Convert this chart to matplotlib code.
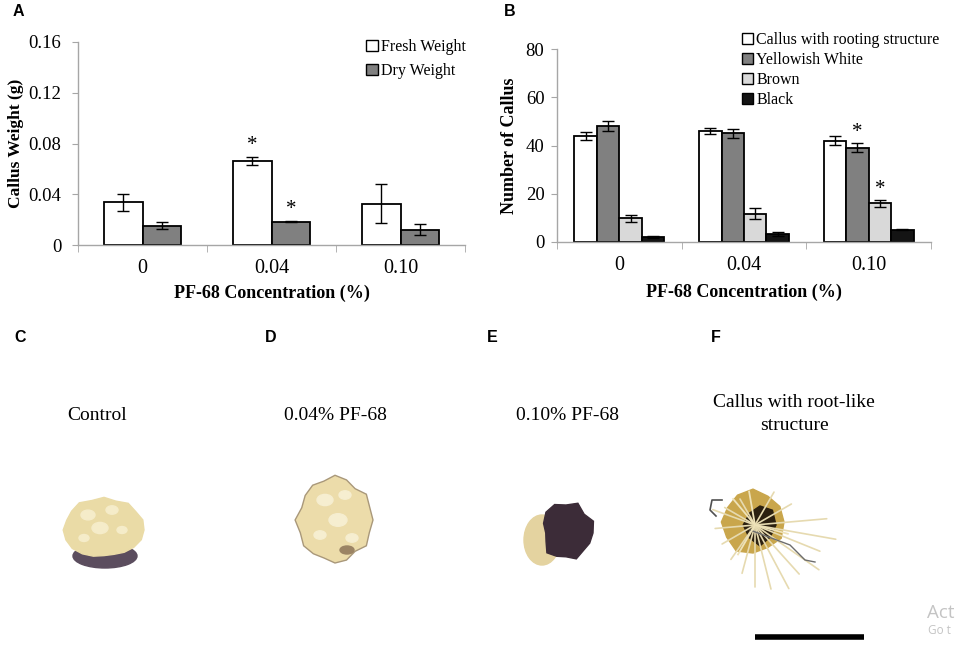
"""Callus weight / callus count under PF-68, plus photo panels C-F."""

import numpy as np
import matplotlib

matplotlib.use("Agg")
import matplotlib.pyplot as plt
from matplotlib.patches import Ellipse, Polygon, Patch

# ---- data -------------------------------------------------------------
concentrations = ["0", "0.04", "0.10"]

fresh_weight = [0.0335, 0.066, 0.0325]
fresh_err = [0.0067, 0.0033, 0.0155]
dry_weight = [0.0153, 0.0185, 0.0122]
dry_err = [0.0025, 0.0003, 0.0042]

callus_rooting = [44.0, 46.0, 42.0]
callus_rooting_err = [1.7, 1.4, 1.9]
yellowish_white = [48.0, 45.0, 39.0]
yellowish_white_err = [2.0, 1.9, 1.9]
brown = [9.8, 11.8, 16.0]
brown_err = [1.5, 2.3, 1.4]
black = [1.9, 3.2, 5.1]
black_err = [0.4, 0.9, 0.3]

photo_captions = ["Control", "0.04% PF-68", "0.10% PF-68", "Callus with root-like\nstructure"]

SERIF = ["Liberation Serif", "DejaVu Serif"]
SANS = ["Liberation Sans", "DejaVu Sans"]
AXIS_GREY = "#a6a6a6"


def _style_ax(ax, ymax, step, fmt, ypad):
    ax.set_xlim(-0.5, 2.5)
    ax.set_ylim(0, ymax)
    ax.set_yticks(np.arange(0, ymax + step / 2, step))
    ax.set_yticklabels([fmt(v) for v in np.arange(0, ymax + step / 2, step)], fontfamily=SERIF, fontsize=13.5)
    ax.set_xticks(range(len(concentrations)))
    ax.set_xticklabels(concentrations, fontfamily=SERIF, fontsize=14.5)
    ax.set_xticks([-0.5, 0.5, 1.5, 2.5], minor=True)
    ax.tick_params(axis="x", which="major", length=0, pad=10)
    ax.tick_params(axis="x", which="minor", length=5, color=AXIS_GREY, direction="out")
    ax.tick_params(axis="y", length=4, color=AXIS_GREY, direction="out", pad=ypad)
    for side in ("top", "right"):
        ax.spines[side].set_visible(False)
    for side in ("left", "bottom"):
        ax.spines[side].set_color(AXIS_GREY)
        ax.spines[side].set_linewidth(1.0)


def blob(ax, cx, cy, rx, ry, wobble, **kw):
    t = np.linspace(0, 2 * np.pi, len(wobble), endpoint=False)
    r = np.asarray(wobble)
    pts = np.column_stack([cx + rx * r * np.cos(t), cy + ry * r * np.sin(t)])
    ax.add_patch(Polygon(pts, closed=True, **kw))


fig = plt.figure(figsize=(9.57, 6.51), dpi=100)

# ---- panel A ----------------------------------------------------------
axA = fig.add_axes([78 / 957, 1 - 245 / 651, 387 / 957, 203 / 651])
x = np.arange(len(concentrations))
w = 0.3
ek = dict(ecolor="black", elinewidth=1, capsize=4, capthick=1)
axA.bar(x - w / 2, fresh_weight, w, yerr=fresh_err, color="white", edgecolor="black", linewidth=1.3,
        error_kw=ek, label="Fresh Weight")
axA.bar(x + w / 2, dry_weight, w, yerr=dry_err, color="#808080", edgecolor="black", linewidth=1.3,
        error_kw=ek, label="Dry Weight")
axA.text(1 - w / 2, fresh_weight[1] + fresh_err[1] + 0.0095, "*", ha="center", va="center",
         fontfamily=SERIF, fontsize=15)
axA.text(1 + w / 2, dry_weight[1] + dry_err[1] + 0.0095, "*", ha="center", va="center",
         fontfamily=SERIF, fontsize=15)
_style_ax(axA, 0.16, 0.04, lambda v: "0" if v == 0 else f"{v:.2f}", 8)
axA.set_ylabel("Callus Weight (g)", fontfamily=SERIF, fontsize=12.5, fontweight="bold")
axA.yaxis.set_label_coords(-0.139, 0.5)
axA.set_xlabel("PF-68 Concentration (%)", fontfamily=SERIF, fontsize=13, fontweight="bold", va="center")
axA.xaxis.set_label_coords(0.5, -0.236)
axA.legend(handles=[Patch(facecolor="white", edgecolor="black", label="Fresh Weight"),
                    Patch(facecolor="#808080", edgecolor="black", label="Dry Weight")],
           loc="upper left", bbox_to_anchor=(366 / 957, 1 - 39 / 651), bbox_transform=fig.transFigure,
           frameon=False, borderpad=0, borderaxespad=0, handlelength=0.75, handleheight=0.75,
           handletextpad=0.2, labelspacing=0.5, prop={"family": SERIF, "size": 11.5})

# ---- panel B ----------------------------------------------------------
axB = fig.add_axes([557 / 957, 1 - 242 / 651, 374 / 957, 193 / 651])
bw = 0.18
series = [
    (callus_rooting, callus_rooting_err, "white", "Callus with rooting structure"),
    (yellowish_white, yellowish_white_err, "#808080", "Yellowish White"),
    (brown, brown_err, "#d9d9d9", "Brown"),
    (black, black_err, "#141414", "Black"),
]
handles = []
for i, (vals, errs, col, lab) in enumerate(series):
    axB.bar(x + (i - 1.5) * bw, vals, bw, yerr=errs, color=col, edgecolor="black", linewidth=1.3,
            error_kw=ek)
    handles.append(Patch(facecolor=col, edgecolor="black", label=lab))
axB.text(2 - 0.5 * bw, yellowish_white[2] + yellowish_white_err[2] + 4.5, "*", ha="center", va="center",
         fontfamily=SERIF, fontsize=15)
axB.text(2 + 0.5 * bw, brown[2] + brown_err[2] + 4.5, "*", ha="center", va="center",
         fontfamily=SERIF, fontsize=15)
_style_ax(axB, 80, 20, lambda v: f"{v:.0f}", 5)
axB.set_ylabel("Number of Callus", fontfamily=SERIF, fontsize=13, fontweight="bold")
axB.yaxis.set_label_coords(-0.104, 0.5)
axB.set_xlabel("PF-68 Concentration (%)", fontfamily=SERIF, fontsize=13, fontweight="bold", va="center")
axB.xaxis.set_label_coords(0.5, -0.259)
axB.legend(handles=handles, loc="upper left", bbox_to_anchor=(742 / 957, 1 - 32 / 651),
           bbox_transform=fig.transFigure, frameon=False, borderpad=0, borderaxespad=0,
           handlelength=0.7, handleheight=0.7, handletextpad=0.2, labelspacing=0.25,
           prop={"family": SERIF, "size": 11.5})

# ---- overlay in pixel coordinates: letters, captions, photos ----------
pax = fig.add_axes([0, 0, 1, 1])
pax.set_xlim(0, 957)
pax.set_ylim(651, 0)
pax.axis("off")

for lab, (lx, ly) in zip("ABCDEF", [(13, 12), (504, 12), (14, 337), (265, 337), (487, 337), (711, 337)]):
    pax.text(lx, ly, lab, ha="left", va="center", fontfamily=SANS, fontweight="bold", fontsize=11.5)

for cap, (cx, cy) in zip(photo_captions, [(97, 415), (335, 415), (567, 415), (794, 414)]):
    pax.text(cx, cy, cap, ha="center", va="center", fontfamily=SERIF, fontsize=14, linespacing=1.4)

# C: control callus
pax.add_patch(Ellipse((105, 556), 64, 24, color="#5b4d5e"))
blob(pax, 104, 530, 40, 32, [1.0, 0.98, 0.92, 0.86, 0.8, 0.8, 0.86, 0.92, 0.98, 1.0, 1.02, 0.98,
                             1.0, 1.05, 0.97, 1.02, 0.95, 1.03, 0.98, 1.02], color="#eadba6")
for sx, sy, sr in [(88, 515, 7), (112, 510, 6), (100, 528, 8), (122, 530, 5), (84, 538, 5)]:
    pax.add_patch(Ellipse((sx, sy), sr * 2, sr * 1.4, color="#f5ecc9"))

# D: 0.04 % callus
blob(pax, 335, 520, 38, 43, [1.0, 0.95, 1.02, 0.9, 0.98, 1.0, 0.93, 0.97, 1.02, 0.96, 1.05, 0.92,
                             0.97, 1.0, 0.95, 1.04, 0.98, 0.9, 1.02, 0.96], color="#ecdcaa",
     ec="#a9987a", lw=1)
for sx, sy, sr in [(325, 500, 8), (345, 495, 6), (338, 520, 9), (320, 535, 6), (352, 538, 6)]:
    pax.add_patch(Ellipse((sx, sy), sr * 2, sr * 1.4, color="#f6eed0"))
pax.add_patch(Ellipse((347, 550), 14, 8, color="#9b8464"))

# E: 0.10 % callus
pax.add_patch(Ellipse((542, 540), 36, 50, color="#e4d3a0"))
blob(pax, 566, 533, 27, 28, [1.0, 0.95, 0.9, 1.0, 0.85, 0.9, 1.0, 0.8, 0.75, 0.9, 1.05, 1.1,
                             1.0, 1.15, 0.95, 1.1], color="#3c2c38")

# F: callus with roots
root_angles = [-150, -120, -60, -30, -5, 10, 22, 35, 48, 62, 76, 90, 105, 125, 150, 175, 200]
root_lengths = [35, 30, 38, 42, 72, 82, 70, 78, 66, 72, 66, 62, 50, 42, 38, 40, 45]
for ang, ln in zip(root_angles, root_lengths):
    a = np.deg2rad(ang)
    pax.plot([755, 755 + ln * np.cos(a)], [525, 525 + ln * np.sin(a)], color="#e6dab0", lw=1.2,
             solid_capstyle="round")
pax.plot([750, 790, 805, 815], [530, 545, 560, 562], color="#6d6d6d", lw=1)
pax.plot([722, 712, 710, 716], [500, 500, 510, 516], color="#505050", lw=1.2)
blob(pax, 753, 522, 31, 31, [1.0, 1.05, 0.95, 1.0, 1.08, 0.98, 1.02, 0.94, 1.0, 1.06, 0.96, 1.0],
     color="#c9a64c")
blob(pax, 760, 525, 16, 19, [1.0, 0.9, 1.1, 0.95, 1.05, 0.9, 1.0, 1.1], color="#2b2010")
for ang in [-100, 15, 120, 230]:
    a = np.deg2rad(ang)
    pax.plot([755, 755 + 34 * np.cos(a)], [525, 525 + 34 * np.sin(a)], color="#eee2b8", lw=1.3)

# scale bar
pax.plot([755, 864], [637, 637], color="black", lw=4, solid_capstyle="butt")

# leftover desktop watermark at the right edge (only its start is visible)
pax.text(927, 613, "Act", ha="left", va="center", fontfamily=["Open Sans", "DejaVu Sans"],
         fontsize=13.5, color="#c4c4c4")
pax.text(928, 630, "Go t", ha="left", va="center",
         fontfamily=["Open Sans", "DejaVu Sans"], fontsize=8.5, color="#c4c4c4")

fig.savefig("out.png", dpi=100)
plt.close(fig)
